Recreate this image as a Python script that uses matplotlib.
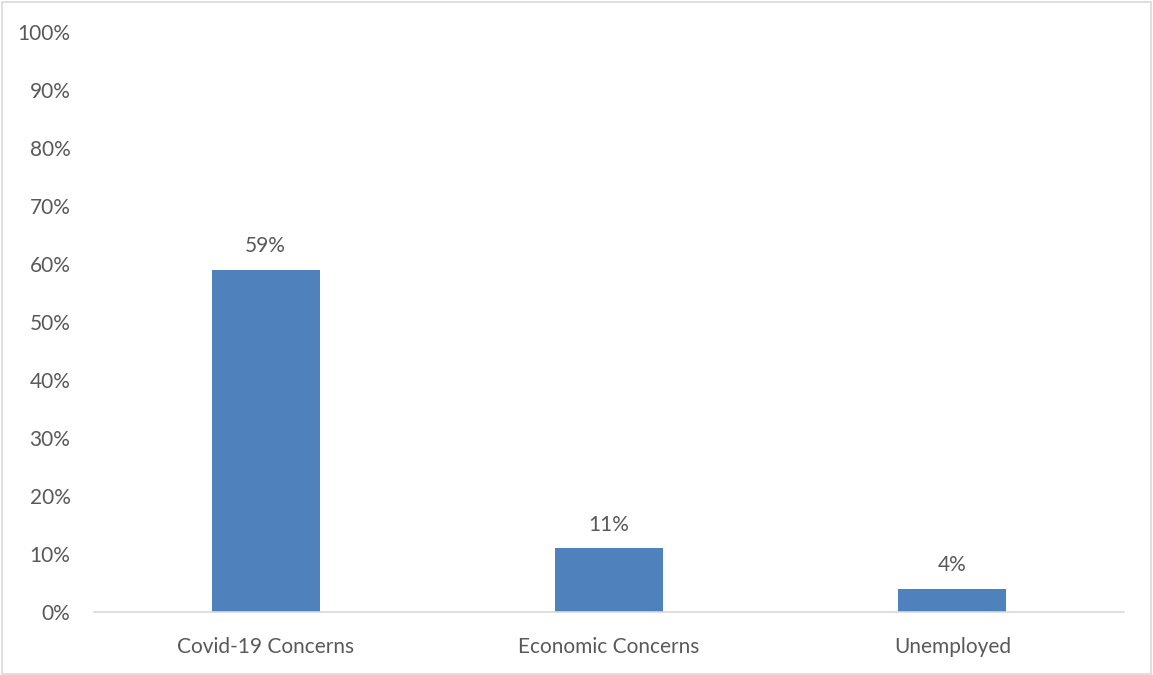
import matplotlib
matplotlib.use('Agg')
import matplotlib.pyplot as plt
from matplotlib.patches import Rectangle
import numpy as np

categories = ['Covid-19 Concerns', 'Economic Concerns', 'Unemployed']
values = [59, 11, 4]
yticks = [0, 10, 20, 30, 40, 50, 60, 70, 80, 90, 100]

plt.rcParams['font.family'] = ['Lato', 'DejaVu Sans']
txtcol = '#595959'
fs = 15

fig = plt.figure(figsize=(11.53, 6.75), dpi=100)
ax = fig.add_axes([94/1153, 1-612/675, 1030/1153, 580/675])

x = np.arange(len(categories))
ax.bar(x, values, width=0.315, color='#4F81BD', zorder=2)
for xi, v in zip(x, values):
    ax.text(xi, v + 2.3, '%d%%' % v, ha='center', va='bottom', fontsize=fs, color=txtcol)

ax.set_xlim(-0.5, len(categories) - 0.5)
ax.set_ylim(0, 100)
ax.set_yticks(yticks)
ax.set_yticklabels(['%d%%' % t for t in yticks], fontsize=fs, color=txtcol)
ax.set_xticks(x)
ax.set_xticklabels(categories, fontsize=fs, color=txtcol)
ax.tick_params(axis='both', length=0)
ax.tick_params(axis='y', pad=17)
ax.tick_params(axis='x', pad=18)

for s in ['top', 'right', 'left']:
    ax.spines[s].set_visible(False)
ax.spines['bottom'].set_color('#D9D9D9')
ax.spines['bottom'].set_linewidth(1.2)

fig.patches.append(Rectangle((0.002, 0.002), 0.996, 0.995, transform=fig.transFigure,
                             fill=False, edgecolor='#D9D9D9', linewidth=1.2))

fig.savefig('out.png', dpi=100)
